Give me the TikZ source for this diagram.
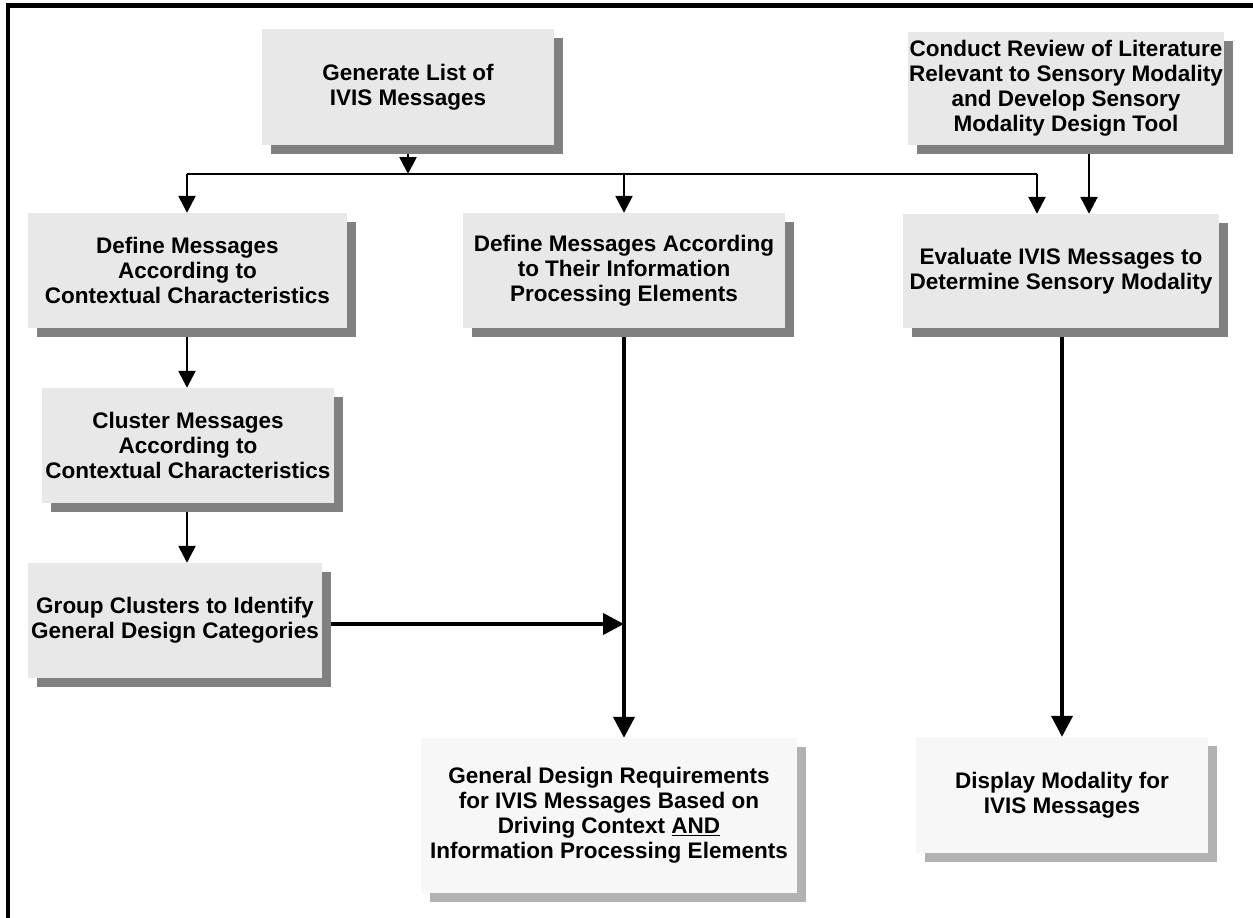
\documentclass[tikz,border=0pt]{standalone}
\usepackage{fontspec}
\setmainfont{Liberation Sans}
\usetikzlibrary{arrows.meta,shadows}
\definecolor{boxfill}{HTML}{E8E8E8}
\definecolor{boxshade}{HTML}{808080}
\definecolor{outfill}{HTML}{F7F7F7}
\definecolor{outshade}{HTML}{B2B2B2}
\begin{document}
\begin{tikzpicture}[x=1pt,y=-1pt,
  boxtext/.style={rectangle, inner sep=0pt, align=center,
    font=\bfseries\fontsize{22.5}{25}\selectfont},
  stage/.style={boxtext, fill=boxfill,
    drop shadow={shadow xshift=9pt, shadow yshift=-9pt, opacity=1, fill=boxshade}},
  result/.style={boxtext, fill=outfill,
    drop shadow={shadow xshift=9pt, shadow yshift=-9pt, opacity=1, fill=outshade}},
  thinarrow/.style={line width=2.5pt, -{Triangle[width=17pt,length=17pt]}},
  thinline/.style={line width=2.5pt},
  thickarrow/.style={line width=4pt, -{Triangle[width=21pt,length=21pt]}},
]
\useasboundingbox (0,0) rectangle (1253,918);

% frame
\draw[line width=4.5pt] (8,930) -- (8,5.5) -- (1265,5.5);

% process boxes
\node[stage, minimum width=292pt, minimum height=116pt] (gen) at (408,87)
  {Generate List of\\IVIS Messages};
\node[stage, minimum width=316pt, minimum height=113pt] (lit) at (1066,88.5)
  {Conduct Review of Literature\\Relevant to Sensory Modality\\and Develop Sensory\\Modality Design Tool};
\node[stage, minimum width=319pt, minimum height=115pt] (defctx) at (187.5,270.5)
  {Define Messages\\According to\\Contextual Characteristics};
\node[stage, minimum width=322pt, minimum height=115pt] (defip) at (624,270.5)
  {Define Messages According\\to Their Information\\Processing Elements};
\node[stage, minimum width=316pt, minimum height=114pt] (eval) at (1061,271)
  {Evaluate IVIS Messages to\\Determine Sensory Modality};
\node[stage, minimum width=292pt, minimum height=115pt] (cluster) at (188,445.5)
  {Cluster Messages\\According to\\Contextual Characteristics};
\node[stage, minimum width=294pt, minimum height=115pt] (group) at (175,620.5)
  {Group Clusters to Identify\\General Design Categories};

% outcome boxes
\node[result, minimum width=376pt, minimum height=155pt] (genreq) at (609,815.5)
  {General Design Requirements\\for IVIS Messages Based on\\Driving Context \underline{AND}\\Information Processing Elements};
\node[result, minimum width=292pt, minimum height=116pt] (display) at (1062,795)
  {Display Modality for\\IVIS Messages};

% distribution bus below the message list
\coordinate (busL) at (187,174);
\coordinate (busR) at (1037,174);
\coordinate (busM) at (408,174);
\draw[thinarrow] ([yshift=-9pt]gen.south) -- (busM);
\draw[thinline] (busL) -- (busR);
\draw[thinarrow] (busL) -- (busL |- defctx.north);
\draw[thinarrow] (busL -| defip.north) -- (defip.north);
\draw[thinarrow] (busR) -- (busR |- eval.north);
\draw[thinarrow] ([xshift=23pt,yshift=-9pt]lit.south) -- ([xshift=28pt]eval.north);

% left column
\draw[thinarrow] ([yshift=-9pt]defctx.south -| busL) -- (busL |- cluster.north);
\draw[thinarrow] ([yshift=-9pt]cluster.south -| busL) -- (busL |- group.north);

% main flows
\coordinate (join) at (624,624);
\draw[thickarrow] ([xshift=9pt]group.east |- join) -- (join);
\draw[thickarrow] ([yshift=-9pt]defip.south) -- (defip.south |- genreq.north);
\draw[thickarrow] ([yshift=-9pt]eval.south -| display.north) -- (display.north);
\end{tikzpicture}
\end{document}
